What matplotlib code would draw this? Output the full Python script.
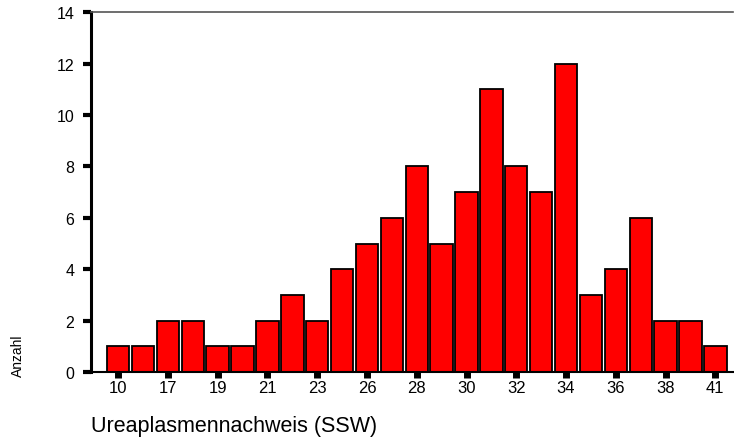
import numpy as np
import matplotlib.pyplot as plt

plt.rcParams['font.family'] = ['Liberation Sans', 'DejaVu Sans']

# SSW-Kategorien (jede zweite ist beschriftet)
wochen = ['10', '14', '17', '18', '19', '20', '21', '22', '23', '24', '26', '27', '28',
          '29', '30', '31', '32', '33', '34', '35', '36', '37', '38', '40', '41']
anzahl = [1, 1, 2, 2, 1, 1, 2, 3, 2, 4, 5, 6, 8, 5, 7, 11, 8, 7, 12, 3, 4, 6, 2, 2, 1]
y_ticks = [0, 2, 4, 6, 8, 10, 12, 14]

fig = plt.figure(figsize=(7.34, 4.39), dpi=100)
ax = fig.add_axes([0.124, 0.150, 0.875, 0.820])

x = np.arange(len(wochen))
ax.bar(x, anzahl, width=0.9, color='#ff0000', edgecolor='black', linewidth=1.3)

ax.set_xlim(-1.09, len(wochen) - 0.28)
ax.set_ylim(0, 14)
ax.set_yticks(y_ticks)
ax.set_yticklabels([str(v) for v in y_ticks], fontsize=11.5)
ax.set_xticks(x[::2])
ax.set_xticklabels(wochen[::2], fontsize=12)

ax.tick_params(axis='y', direction='out', length=6, width=3, pad=6)
ax.tick_params(axis='x', direction='out', length=4, width=5, pad=2)

ax.spines['right'].set_visible(False)
ax.spines['top'].set_color('#555555')
ax.spines['top'].set_linewidth(1.2)
ax.spines['left'].set_linewidth(2.2)
ax.spines['bottom'].set_linewidth(1.5)

ax.set_xlabel('Ureaplasmennachweis (SSW)', fontsize=15.5, loc='left', labelpad=14)
fig.text(0.024, 0.19, 'Anzahl', rotation=90, fontsize=10, ha='center', va='center')

fig.savefig('out.png', dpi=100)
